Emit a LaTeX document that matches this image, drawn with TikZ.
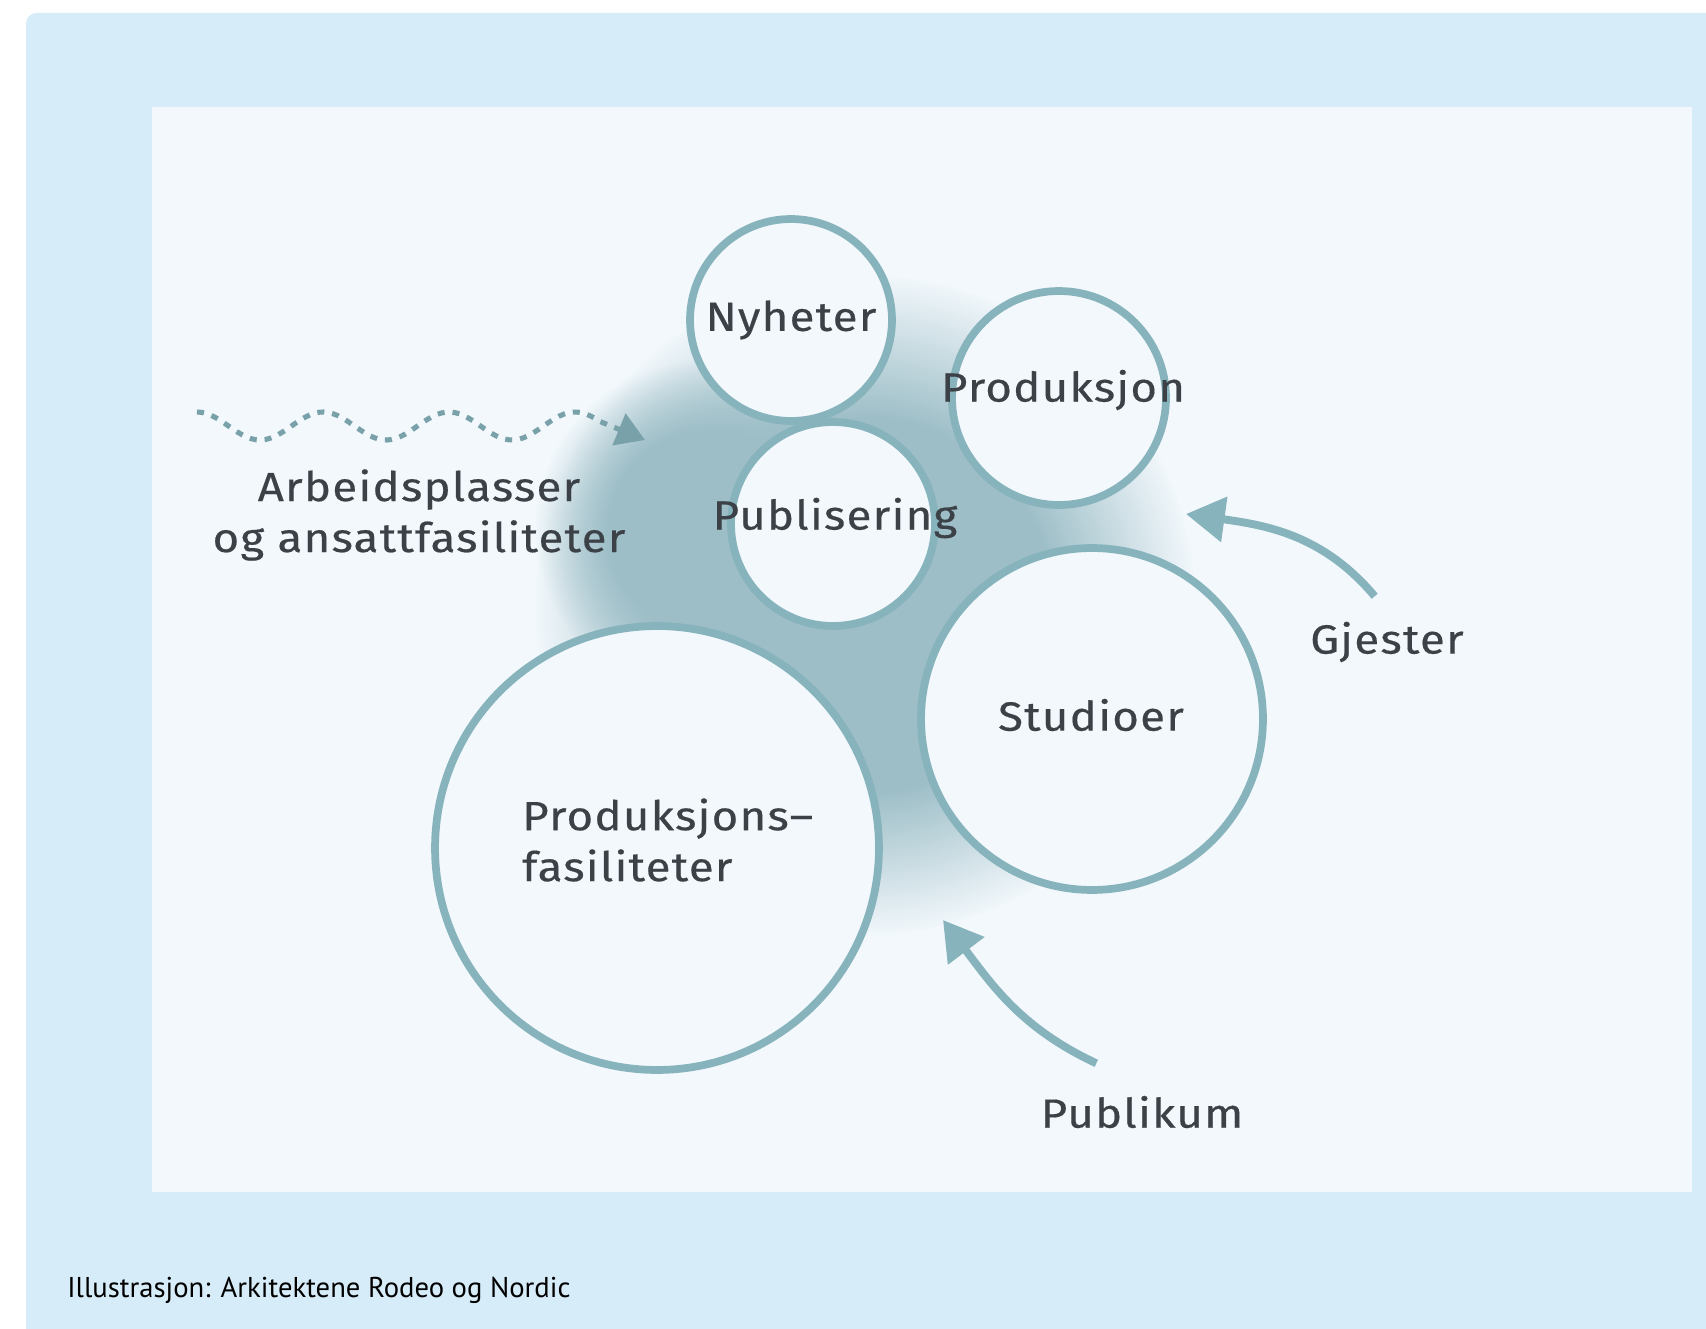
\documentclass[tikz,border=0pt]{standalone}
\usepackage{fontspec}
\setmainfont{Fira Sans}
\newfontfamily\labfont{Fira Sans}[FakeStretch=1.12, LetterSpace=3, FakeBold=0.4]
\newfontfamily\capfont{PT Sans}
\usetikzlibrary{arrows.meta,fadings}

\definecolor{outerbg}{HTML}{D6ECF9}
\definecolor{innerbg}{HTML}{F2F8FC}
\definecolor{ring}{HTML}{87B3BD}
\definecolor{blob}{HTML}{9DBEC7}
\definecolor{ink}{HTML}{3B4146}

\pgfdeclareradialshading{softshade}{\pgfpointorigin}{color(0bp)=(pgftransparent!0); color(14bp)=(pgftransparent!0); color(25bp)=(pgftransparent!100); color(50bp)=(pgftransparent!100)}
\pgfdeclarefading{softblob}{\pgfuseshading{softshade}}

\begin{document}
\begin{tikzpicture}[x=0.02cm, y=0.02cm,
  bubble/.style={circle, draw=ring, fill=innerbg, line width=4.4pt, inner sep=0pt},
  lab/.style={font=\labfont\fontsize{23.2}{29}\selectfont, text=ink},
  flow/.style={draw=ring, line width=4.5pt, -{Triangle[length=22pt, width=25pt]}},
  wavy/.style={draw=ring!90!black, line width=2.9pt, dash pattern=on 4pt off 4.5pt, -{Triangle[length=16pt, width=19pt]}}]

  \useasboundingbox (0,0) rectangle (1706,-1328);
  \clip (0,0) rectangle (1706,-1328);
  \fill[white] (0,0) rectangle (1706,-1328);
  \fill[outerbg, rounded corners=6pt] (26,-13) rectangle (1760,-1380);
  \fill[innerbg] (152,-107) rectangle (1692,-1192);

  % shadow behind the bubbles
  \fill[blob, path fading=softblob] (865,-605) circle (330);
  \fill[blob, path fading=softblob] (705,-530) circle (170);

  \node[bubble, minimum size=4.04cm] (nyh) at (791,-320) {};
  \node[bubble, minimum size=4.28cm] (pro) at (1059,-398) {};
  \node[bubble, minimum size=4.08cm] (pub) at (833,-524) {};
  \node[bubble, minimum size=6.84cm] (stu) at (1092,-719) {};
  \node[bubble, minimum size=8.88cm] (fas) at (657,-848) {};

  \node[lab] (nyhlab) at (791,-320) {Nyheter};
  \node[lab] (prolab) at (1063,-390) {Produksjon};
  \node[lab] (publab) at (835,-518) {Publisering};
  \node[lab] (stulab) at (1091,-715) {Studioer};
  \node[lab, align=left, anchor=west] (faslab) at (516,-840) {Produksjons\textendash\\fasiliteter};
  \node[lab, align=center] (arb) at (419,-515) {Arbeidsplasser\\og ansattfasiliteter};
  \node[lab] (gje) at (1387,-642) {Gjester};
  \node[lab] (pbk) at (1142,-1112) {Publikum};

  \coordinate (gtip) at (1186,-514);
  \coordinate (ptip) at (943,-920);
  \coordinate (wtip) at (645,-440);

  \draw[flow] ([xshift=-7pt, yshift=11pt]gje.north) to[out=130, in=-8] (gtip);
  \draw[flow] ([xshift=-26pt, yshift=15pt]pbk.north) to[out=155, in=-53] (ptip);
  \draw[wavy] plot[domain=197:600, samples=90] (\x, {-426+14*cos(2.857*(\x-197))}) -- (wtip);

  \node[font=\capfont\fontsize{16.3}{19}\selectfont, inner sep=0pt, anchor=base west] (cap) at (67,-1297) {Illustrasjon: Arkitektene Rodeo og Nordic};

\end{tikzpicture}
\end{document}
